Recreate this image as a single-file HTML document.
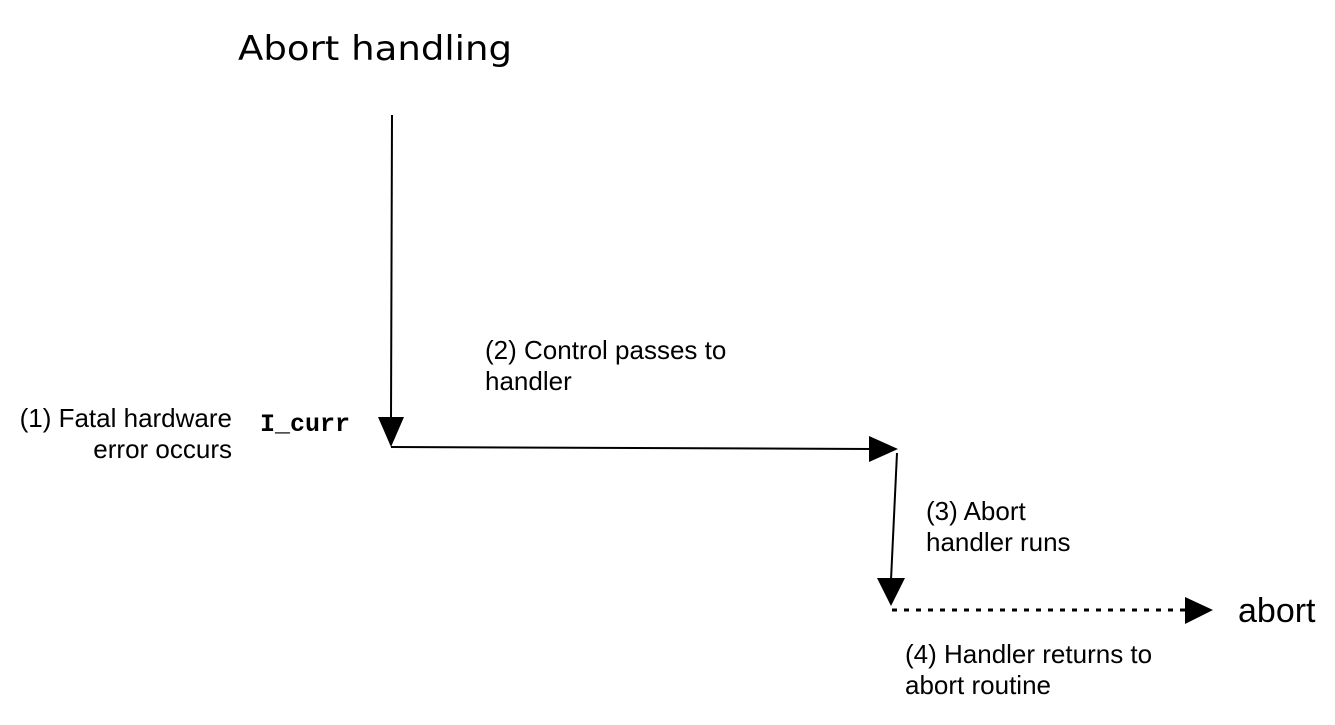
<!DOCTYPE html>
<html><head><meta charset="utf-8"><style>body{margin:0;background:#fff}</style></head>
<body>
<svg width="1335" height="720" xmlns="http://www.w3.org/2000/svg" font-family="Liberation Sans, sans-serif" font-size="26" fill="#000">
<rect width="1335" height="720" fill="#fff"/>
<text x="238" y="60" font-family="DejaVu Sans, sans-serif" font-size="34" textLength="274" lengthAdjust="spacingAndGlyphs">Abort handling</text>
<g stroke="#000" stroke-width="2" fill="none">
<line x1="392" y1="115" x2="391" y2="420"/>
<line x1="391" y1="447" x2="872" y2="449"/>
<line x1="897" y1="453" x2="891" y2="580"/>
<line x1="892" y1="610" x2="1186" y2="610" stroke-dasharray="5,7" stroke-width="3"/>
</g>
<polygon points="378,417 404,417 391,447"/>
<polygon points="869,436 869,462 898,449"/>
<polygon points="877,578 905,578 891,606"/>
<polygon points="1185,597 1185,624 1213,610"/>
<text x="485" y="359">(2) Control passes to</text>
<text x="485" y="390">handler</text>
<text x="232" y="427" text-anchor="end">(1) Fatal hardware</text>
<text x="232" y="458" text-anchor="end">error occurs</text>
<text x="260" y="431" font-family="Liberation Mono, monospace" font-size="25" font-weight="bold" textLength="90">I_curr</text>
<text x="926" y="520">(3) Abort</text>
<text x="926" y="551">handler runs</text>
<text x="1238" y="622" font-size="34">abort</text>
<text x="905" y="663">(4) Handler returns to</text>
<text x="905" y="694">abort routine</text>
</svg>
</body></html>
